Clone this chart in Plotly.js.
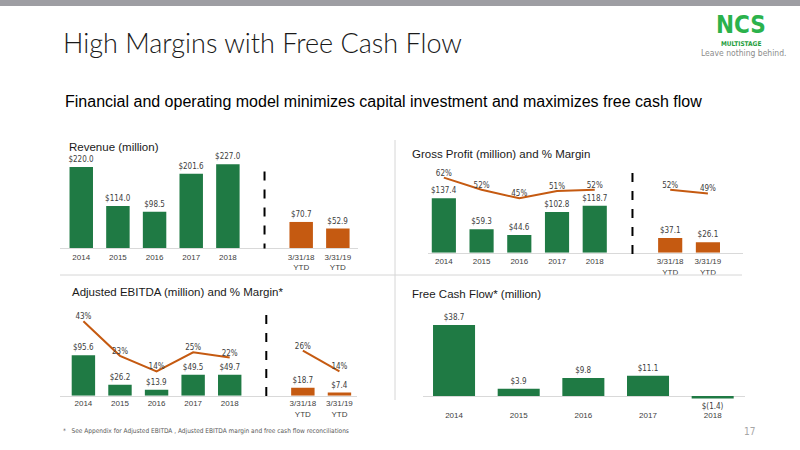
<!DOCTYPE html>
<html>
<head>
<meta charset="utf-8">
<script src="https://cdn.plot.ly/plotly-3.0.1.min.js"></script>
<style>
html,body{margin:0;padding:0;background:#fff;}
#chart{width:800px;height:450px;}
</style>
</head>
<body>
<div id="chart"></div>
<script>
// ---------- data ----------
const years = ['2014', '2015', '2016', '2017', '2018'];
const ytdLabels = ['3/31/18<br>YTD', '3/31/19<br>YTD'];

const revenueAnnual = [220.0, 114.0, 98.5, 201.6, 227.0];
const revenueYTD = [70.7, 52.9];

const grossProfitAnnual = [137.4, 59.3, 44.6, 102.8, 118.7];
const grossProfitYTD = [37.1, 26.1];
const grossMarginAnnual = [62, 52, 45, 51, 52];
const grossMarginYTD = [52, 49];

const ebitdaAnnual = [95.6, 26.2, 13.9, 49.5, 49.7];
const ebitdaYTD = [18.7, 7.4];
const ebitdaMarginAnnual = [43, 23, 14, 25, 22];
const ebitdaMarginYTD = [26, 14];

const fcfYears = ['2014', '2015', '2016', '2017', '2018'];
const freeCashFlow = [38.7, 3.9, 9.8, 11.1, -1.4];

// ---------- helpers ----------
const W = 800, H = 450;
const px = p => p / W;
const py = p => 1 - p / H;
const GREEN = '#1f7a44';
const ORANGE = '#c55a11';
const LABEL_FONT = 'Liberation Sans Narrow, DejaVu Sans Condensed, Arial Narrow, sans-serif';
const ARIAL = 'Liberation Sans, Arial, sans-serif';

const money = v => v < 0 ? '$(' + Math.abs(v).toFixed(1) + ')' : '$' + v.toFixed(1);
const pct = v => v + '%';

const annualX = years.map((_, i) => i);
const gapX = years.length;
const ytdX = ytdLabels.map((_, i) => years.length + 1 + i);
const tickVals = annualX.concat(ytdX);
const tickText = years.concat(ytdLabels);

function barTrace(xs, ys, color, xa, ya) {
  return {
    type: 'bar', x: xs, y: ys, xaxis: xa, yaxis: ya,
    marker: {color: color}, width: 0.64,
    text: ys.map(money), textposition: 'outside', cliponaxis: false,
    constraintext: 'none',
    textfont: {family: LABEL_FONT, size: 8, color: '#404040'},
    hoverinfo: 'skip'
  };
}
function lineTrace(xs, ys, xa, ya) {
  return {
    type: 'scatter', mode: 'lines+text', x: xs, y: ys, xaxis: xa, yaxis: ya,
    line: {color: ORANGE, width: 2},
    text: ys.map(pct), textposition: 'top center', cliponaxis: false,
    textfont: {family: LABEL_FONT, size: 8, color: '#404040'},
    hoverinfo: 'skip'
  };
}

const data = [
  barTrace(annualX, revenueAnnual, GREEN, 'x', 'y'),
  barTrace(ytdX, revenueYTD, ORANGE, 'x', 'y'),

  barTrace(annualX, grossProfitAnnual, GREEN, 'x2', 'y2'),
  barTrace(ytdX, grossProfitYTD, ORANGE, 'x2', 'y2'),
  lineTrace(annualX, grossMarginAnnual, 'x2', 'y5'),
  lineTrace(ytdX, grossMarginYTD, 'x2', 'y5'),

  barTrace(annualX, ebitdaAnnual, GREEN, 'x3', 'y3'),
  barTrace(ytdX, ebitdaYTD, ORANGE, 'x3', 'y3'),
  lineTrace(annualX, ebitdaMarginAnnual, 'x3', 'y6'),
  lineTrace(ytdX, ebitdaMarginYTD, 'x3', 'y6'),

  barTrace(fcfYears.map((_, i) => i), freeCashFlow, GREEN, 'x4', 'y4')
];
data[data.length - 1].width = 0.65;

function xAxis(dom, range, anchor, vals, texts, showline, tlen) {
  return {
    domain: dom, range: range, anchor: anchor, fixedrange: true,
    tickmode: 'array', tickvals: vals, ticktext: texts,
    showgrid: false, zeroline: false, showline: showline,
    linecolor: '#d9d9d9', linewidth: 1,
    ticks: 'outside', ticklen: tlen, tickcolor: 'rgba(0,0,0,0)',
    tickfont: {family: ARIAL, size: 8, color: '#404040'}
  };
}
function yAxis(dom, range, anchor, extra) {
  return Object.assign({
    domain: dom, range: range, anchor: anchor, fixedrange: true,
    showgrid: false, zeroline: false, showticklabels: false, showline: false, ticks: ''
  }, extra || {});
}

const layout = {
  width: W, height: H,
  margin: {l: 0, r: 0, t: 0, b: 0},
  paper_bgcolor: '#ffffff', plot_bgcolor: 'rgba(0,0,0,0)',
  showlegend: false, hovermode: false,
  barmode: 'overlay',

  xaxis: xAxis([px(60), px(358)], [-0.58, 7.55], 'y', tickVals, tickText, true, 1),
  yaxis: yAxis([py(248), py(150)], [0, 266], 'x'),

  xaxis2: xAxis([px(428), px(743)], [-0.42, 7.93], 'y2', tickVals, tickText, true, 1),
  yaxis2: yAxis([py(252.7), py(160)], [0, 234], 'x2'),
  yaxis5: yAxis([py(252.7), py(160)], [0, 76.6], 'x2', {overlaying: 'y2'}),

  xaxis3: xAxis([px(60), px(357)], [-0.64, 7.48], 'y3', tickVals, tickText, true, 0),
  yaxis3: yAxis([py(395.7), py(300)], [0, 226.5], 'x3'),
  yaxis6: yAxis([py(395.7), py(300)], [0, 55.2], 'x3', {overlaying: 'y3'}),

  xaxis4: xAxis([px(423), px(745)], [-0.48, 4.5], 'y4', fcfYears.map((_, i) => i), fcfYears, false, 6),
  yaxis4: yAxis([py(401), py(300)], [-2.72, 52.3], 'x4',
    {zeroline: true, zerolinecolor: '#d9d9d9', zerolinewidth: 1}),

  shapes: [
    // top grey band
    {type: 'rect', xref: 'paper', yref: 'paper', x0: 0, x1: 1, y0: py(6), y1: 1,
     fillcolor: '#9e9ea3', line: {width: 0}, layer: 'below'},
    // panel separators
    {type: 'line', xref: 'paper', yref: 'paper', x0: px(60), x1: px(742), y0: py(275), y1: py(275),
     line: {color: '#d6d6d6', width: 1}},
    {type: 'line', xref: 'paper', yref: 'paper', x0: px(395), x1: px(395), y0: py(140), y1: py(400),
     line: {color: '#d6d6d6', width: 1}},
    // dashed dividers between annual and YTD
    {type: 'line', xref: 'x', yref: 'paper', x0: gapX, x1: gapX, y0: py(171.5), y1: py(248.5),
     line: {color: '#000000', width: 2, dash: 'dash'}},
    {type: 'line', xref: 'x2', yref: 'paper', x0: gapX, x1: gapX, y0: py(173), y1: py(257),
     line: {color: '#000000', width: 2, dash: 'dash'}},
    {type: 'line', xref: 'x3', yref: 'paper', x0: gapX, x1: gapX, y0: py(315), y1: py(397),
     line: {color: '#000000', width: 2, dash: 'dash'}}
  ],

  annotations: [
    {text: 'High Margins with Free Cash Flow', xref: 'paper', yref: 'paper', x: px(61), y: py(42),
     xanchor: 'left', yanchor: 'middle', showarrow: false,
     font: {family: 'Lato, Open Sans, sans-serif', size: 27, color: '#1a1a1a', weight: 300}},
    {text: 'Financial and operating model minimizes capital investment and maximizes free cash flow',
     xref: 'paper', yref: 'paper', x: px(63), y: py(101), xanchor: 'left', yanchor: 'middle',
     showarrow: false, font: {family: ARIAL, size: 16, color: '#000000'}},

    {text: 'Revenue (million)', xref: 'paper', yref: 'paper', x: px(67), y: py(146.5),
     xanchor: 'left', yanchor: 'middle', showarrow: false, font: {family: ARIAL, size: 11.5, color: '#1a1a1a'}},
    {text: 'Gross Profit (million) and % Margin', xref: 'paper', yref: 'paper', x: px(410), y: py(154),
     xanchor: 'left', yanchor: 'middle', showarrow: false, font: {family: ARIAL, size: 11.5, color: '#1a1a1a'}},
    {text: 'Adjusted EBITDA (million) and % Margin*', xref: 'paper', yref: 'paper', x: px(70), y: py(292),
     xanchor: 'left', yanchor: 'middle', showarrow: false, font: {family: ARIAL, size: 11.5, color: '#1a1a1a'}},
    {text: 'Free Cash Flow* (million)', xref: 'paper', yref: 'paper', x: px(410), y: py(294),
     xanchor: 'left', yanchor: 'middle', showarrow: false, font: {family: ARIAL, size: 11.5, color: '#1a1a1a'}},

    // logo
    {text: '<b>NCS</b>', xref: 'paper', yref: 'paper', x: px(741), y: py(25), xanchor: 'center', yanchor: 'middle',
     showarrow: false, font: {family: LABEL_FONT, size: 24, color: '#2bb24c'}},
    {text: '<b>MULTISTAGE</b>', xref: 'paper', yref: 'paper', x: px(741), y: py(43.5), xanchor: 'center', yanchor: 'middle',
     showarrow: false, font: {family: LABEL_FONT, size: 6.5, color: '#1e9e40'}},
    {text: 'Leave nothing behind.', xref: 'paper', yref: 'paper', x: px(743), y: py(52.5), xanchor: 'center', yanchor: 'middle',
     showarrow: false, font: {family: LABEL_FONT, size: 8.5, color: '#8c8c8c'}},

    // footnote & page number
    {text: '*   See Appendix for Adjusted EBITDA , Adjusted EBITDA margin and free cash flow reconciliations',
     xref: 'paper', yref: 'paper', x: px(61), y: py(431), xanchor: 'left', yanchor: 'middle',
     showarrow: false, font: {family: LABEL_FONT, size: 6.5, color: '#595959'}},
    {text: '17', xref: 'paper', yref: 'paper', x: px(749), y: py(431), xanchor: 'center', yanchor: 'middle',
     showarrow: false, font: {family: LABEL_FONT, size: 10, color: '#a6a6a6'}}
  ]
};

Plotly.newPlot('chart', data, layout, {staticPlot: true, displayModeBar: false});
</script>
</body>
</html>
